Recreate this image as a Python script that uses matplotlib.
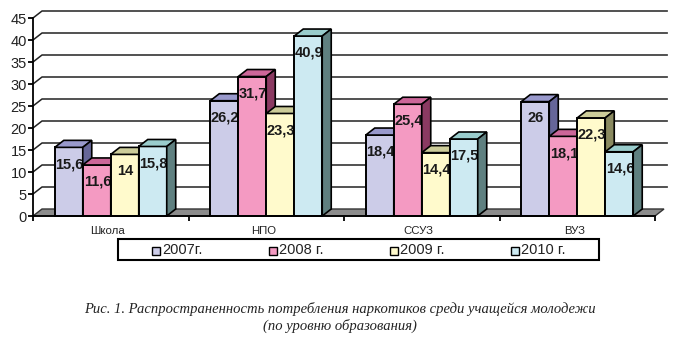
import matplotlib.pyplot as plt
from matplotlib.patches import Rectangle, Polygon

# Данные: распространенность потребления по уровню образования, %
categories = ['Школа', 'НПО', 'ССУЗ', 'ВУЗ']
years = ['2007г.', '2008 г.', '2009 г.', '2010 г.']
v2007 = [15.6, 26.2, 18.4, 26]
v2008 = [11.6, 31.7, 25.4, 18.1]
v2009 = [14, 23.3, 14.4, 22.3]
v2010 = [15.8, 40.9, 17.5, 14.6]
yticks = [0, 5, 10, 15, 20, 25, 30, 35, 40, 45]
caption1 = 'Рис. 1. Распространенность потребления наркотиков среди учащейся молодежи'
caption2 = '(по уровню образования)'

series = [v2007, v2008, v2009, v2010]
# цвета: лицевая грань, верх, бок
front = ['#cccce8', '#f49ac2', '#fffacc', '#cdeaf2']
top = ['#9999cc', '#cc6699', '#cccc99', '#99cccc']
side = ['#666699', '#8b3a62', '#8a8a60', '#5f8080']

plt.rcParams['font.family'] = ['Liberation Sans', 'DejaVu Sans']

W, H = 680, 349
fig = plt.figure(figsize=(W / 100, H / 100), dpi=100)
ax = fig.add_axes([33 / W, 133 / H, 622 / W, 198 / H])
ax.set_xlim(-0.5, 3.5)
ax.set_ylim(0, 45)

# глубина "3D" в единицах данных
dx = 9 / 155.5
dy = 7 / 4.4
w = 0.18

# задняя стенка: линии сетки и диагонали на левой стенке
for t in yticks[1:]:
    ax.plot([-0.5, -0.5 + dx, 3.5 + dx + 0.02], [t, t + dy, t + dy],
            color='#222222', lw=1.1, clip_on=False, zorder=1)

# пол
floor = Polygon([(-0.5, 0), (3.5, 0), (3.5 + dx, dy), (-0.5 + dx, dy)],
                closed=True, facecolor='#8c8c8c', edgecolor='#333333',
                lw=1, clip_on=False, zorder=2)
ax.add_patch(floor)

# столбцы
for i in range(len(categories)):
    for j, vals in enumerate(series):
        v = vals[i]
        x0 = i - 2 * w + j * w
        z = 3 + (i * 4 + j) * 0.1
        ax.add_patch(Rectangle((x0, 0), w, v, facecolor=front[j],
                               edgecolor='black', lw=1.4, zorder=z,
                               clip_on=False))
        ax.annotate(f'{v:g}'.replace('.', ','), (x0 + w / 2, v),
                    xytext=(0.5, -12), textcoords='offset points',
                    ha='center', va='center', fontsize=10.5,
                    fontweight='bold', color='#1a1a1a', zorder=z + 0.02)
        ax.add_patch(Polygon([(x0, v), (x0 + w, v), (x0 + w + dx, v + dy),
                              (x0 + dx, v + dy)], closed=True,
                             facecolor=top[j], edgecolor='black', lw=1.2,
                             zorder=z + 0.03, clip_on=False))
        ax.add_patch(Polygon([(x0 + w, 0), (x0 + w + dx, dy),
                              (x0 + w + dx, v + dy), (x0 + w, v)],
                             closed=True, facecolor=side[j],
                             edgecolor='black', lw=1.2, zorder=z + 0.03,
                             clip_on=False))

# оси
for s in ['top', 'right']:
    ax.spines[s].set_visible(False)
ax.spines['left'].set_linewidth(1.3)
ax.spines['bottom'].set_linewidth(1.3)
ax.spines['bottom'].set_zorder(10)
ax.set_yticks(yticks)
ax.set_yticklabels([str(t) for t in yticks], fontsize=10.5, color='#222222')
ax.set_xticks([-0.5, 0.5, 1.5, 2.5, 3.5])
ax.set_xticklabels([])
ax.tick_params(axis='both', direction='out', length=3.5, width=1.3, pad=1)
for i, c in enumerate(categories):
    ax.text(i - 0.02, -0.05, c, transform=ax.get_xaxis_transform(),
            ha='center', va='top', fontsize=8.2, color='#222222')

# легенда
fig.patches.append(Rectangle((118 / W, 1 - 260 / H), 481 / W, 21 / H,
                             transform=fig.transFigure, fill=False,
                             edgecolor='black', lw=1.5))
legend_x = [152, 269, 390, 511]
for j, name in enumerate(years):
    fig.patches.append(Rectangle((legend_x[j] / W, 1 - 254.5 / H), 8 / W, 8 / H,
                                 transform=fig.transFigure,
                                 facecolor=front[j], edgecolor='black', lw=1))
    fig.text((legend_x[j] + 10) / W, 1 - 250.5 / H, name, ha='left',
             va='center', fontsize=10.5, color='#222222')

# подпись рисунка
fig.text(0.5, 1 - 309 / H, caption1, ha='center', va='center',
         family='Liberation Serif', style='italic', fontsize=10.5,
         color='#222222')
fig.text(0.5, 1 - 326 / H, caption2, ha='center', va='center',
         family='Liberation Serif', style='italic', fontsize=10.5,
         color='#222222')

fig.savefig('out.png', dpi=100)
